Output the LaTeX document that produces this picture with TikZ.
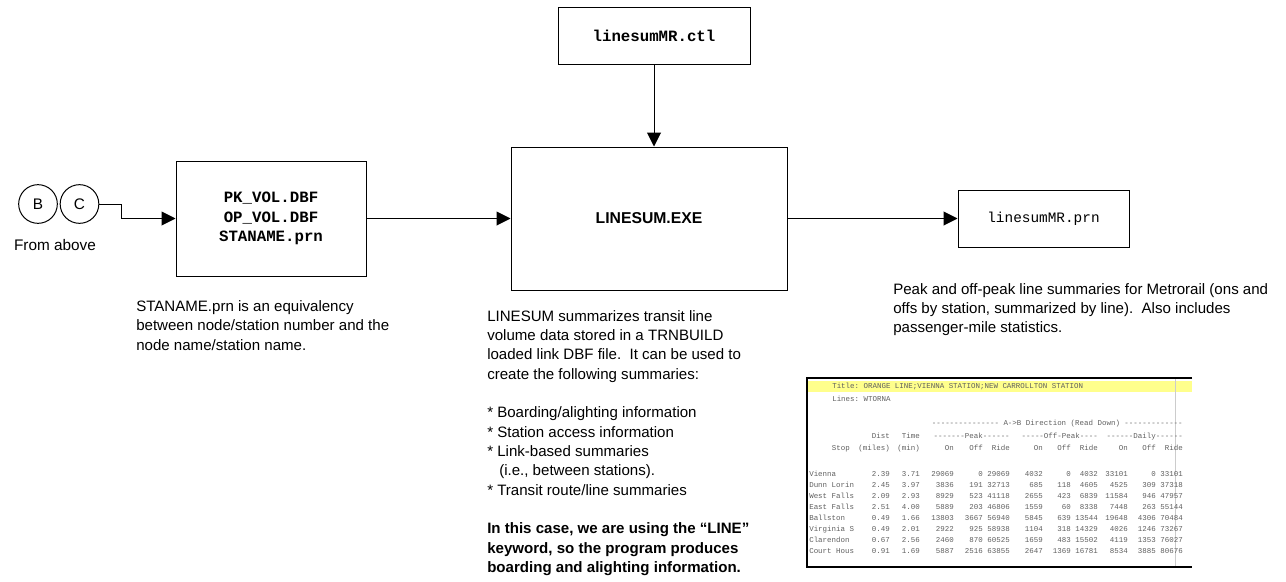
\documentclass[tikz,border=0pt]{standalone}
\usepackage{fontspec}
\setmainfont{Liberation Sans}
\setmonofont{Liberation Mono}
\usepackage{tikz}
\usetikzlibrary{arrows.meta, positioning}
\definecolor{TitleYellow}{RGB}{255, 255, 140}
\definecolor{ScreenGray}{RGB}{95, 95, 95}

\begin{document}
\begin{tikzpicture}[
    x=0.75pt, y=-0.75pt,
    box/.style={rectangle, draw=black, fill=white, line width=0.75pt, inner sep=0pt},
    filebox/.style={box, font=\ttfamily\bfseries\fontsize{11.8}{14.6}\selectfont, align=center},
    note/.style={anchor=north west, inner sep=0pt, align=left, font=\fontsize{11.3}{14.3}\selectfont},
    arrow/.style={-{Triangle[length=10.5pt, width=10.5pt]}, line width=0.75pt},
    station/.style={circle, draw, line width=0.75pt, minimum size=29pt, inner sep=0pt, font=\fontsize{11.5}{13}\selectfont},
    scr/.style={inner sep=0pt, text=ScreenGray, font=\ttfamily\fontsize{5.6}{6}\selectfont}
]
\useasboundingbox (0,0) rectangle (1286,582);

% Inputs
\node[station] (b) at (38,204) {B};
\node[station] (c) at (79.5,204) {C};
\node[font=\fontsize{11.5}{13}\selectfont] (above) at (55,245) {From above};
\node[filebox, minimum width=142.5pt, minimum height=86.25pt] (vol) at (271,218.5) {PK\_VOL.DBF\\OP\_VOL.DBF\\STANAME.prn};

% Program
\node[filebox, minimum width=144pt, minimum height=42.75pt] (ctl) at (654,35.5) {linesumMR.ctl};
\node[box, minimum width=207pt, minimum height=107.25pt, font=\bfseries\fontsize{11.8}{14}\selectfont] (linesum) at (649,218.5) {LINESUM.EXE};

% Output
\node[filebox, font=\ttfamily\fontsize{10.8}{13}\selectfont, minimum width=128.25pt, minimum height=42.75pt] (prn) at (1043.5,218.5) {linesumMR.prn};

% Arrows
\draw[arrow] (c.east) -- ++(22,0) |- (vol.west);
\draw[arrow] (vol.east) -- (vol.east -| linesum.west);
\draw[arrow] (ctl.south) -- (ctl.south |- linesum.north);
\draw[arrow] (linesum.east) -- (prn.west);

% Notes
\node[note, font=\fontsize{11.3}{14.6}\selectfont] (stanote) at (136,300) {STANAME.prn is an equivalency\\between node/station number and the\\node name/station name.};
\node[note, font=\fontsize{11.3}{14.5}\selectfont] (sumnote) at (487,310) {LINESUM summarizes transit line\\volume data stored in a TRNBUILD\\loaded link DBF file.\ \ It can be used to\\create the following summaries:\\ ~\\* Boarding/alighting information\\* Station access information\\* Link-based summaries\\\hspace*{9pt}(i.e., between stations).\\* Transit route/line summaries\\ ~\\\textbf{In this case, we are using the “LINE”}\\\textbf{keyword, so the program produces}\\\textbf{boarding and alighting information.}};
\node[note] (prnnote) at (893,283) {Peak and off-peak line summaries for Metrorail (ons and\\offs by station, summarized by line).\ \ Also includes\\passenger-mile statistics.};

% Sample of linesumMR.prn
\fill[TitleYellow] (808,381) rectangle (1192,392);
\draw[black!20, line width=0.6pt] (1175,378) -- (1175,567);
\draw[line width=0.9pt] (1192,378) -- (807,378) -- (807,567) -- (1192,567);
\node[scr, anchor=base west] (title) at (832,388) {Title: ORANGE LINE;VIENNA STATION;NEW CARROLLTON STATION};
\node[scr, anchor=base west] (lines) at (832,401) {Lines: WTORNA};
\node[scr, anchor=base east] (dir) at (1183,425) {--------------- A->B Direction (Read Down) -------------};
\node[scr, anchor=base east] (hdist) at (890,438) {Dist};
\node[scr, anchor=base east] (htime) at (920,438) {Time};
\node[scr, anchor=base east] (hpk) at (1010,438) {-------Peak------};
\node[scr, anchor=base east] (hop) at (1098,438) {-----Off-Peak----};
\node[scr, anchor=base east] (hdy) at (1183,438) {------Daily------};
\node[scr, anchor=base east] (hstop) at (850,450) {Stop};
\node[scr, anchor=base east] (hmiles) at (890,450) {(miles)};
\node[scr, anchor=base east] (hmin) at (920,450) {(min)};
\foreach \xx/\hh [count=\k] in {954/On, 983/Off, 1010/Ride, 1043/On, 1071/Off, 1098/Ride, 1128/On, 1156/Off, 1183/Ride}
  \node[scr, anchor=base east] (hcol\k) at (\xx,450) {\hh};
\foreach \yy/\stp/\ds/\tm/\pa/\pb/\pc/\oa/\ob/\oc/\da/\db/\dc [count=\i] in {
    476/Vienna/2.39/3.71/29069/0/29069/4032/0/4032/33101/0/33101,
    487/Dunn Lorin/2.45/3.97/3836/191/32713/685/118/4605/4525/309/37318,
    498/West Falls/2.09/2.93/8929/523/41118/2655/423/6839/11584/946/47957,
    509/East Falls/2.51/4.00/5889/203/46806/1559/60/8338/7448/263/55144,
    520/Ballston/0.49/1.66/13803/3667/56940/5845/639/13544/19648/4306/70484,
    531/Virginia S/0.49/2.01/2922/925/58938/1104/318/14329/4026/1246/73267,
    542/Clarendon/0.67/2.56/2460/870/60525/1659/483/15502/4119/1353/76027,
    553/Court Hous/0.91/1.69/5887/2516/63855/2647/1369/16781/8534/3885/80676} {
  \node[scr, anchor=base west] (stop\i) at (809,\yy) {\stp};
  \node[scr, anchor=base east] (dist\i) at (890,\yy) {\ds};
  \node[scr, anchor=base east] (time\i) at (920,\yy) {\tm};
  \node[scr, anchor=base east] (pkon\i) at (954,\yy) {\pa};
  \node[scr, anchor=base east] (pkoff\i) at (983,\yy) {\pb};
  \node[scr, anchor=base east] (pkride\i) at (1010,\yy) {\pc};
  \node[scr, anchor=base east] (opon\i) at (1043,\yy) {\oa};
  \node[scr, anchor=base east] (opoff\i) at (1071,\yy) {\ob};
  \node[scr, anchor=base east] (opride\i) at (1098,\yy) {\oc};
  \node[scr, anchor=base east] (dyon\i) at (1128,\yy) {\da};
  \node[scr, anchor=base east] (dyoff\i) at (1156,\yy) {\db};
  \node[scr, anchor=base east] (dyride\i) at (1183,\yy) {\dc};
}

\end{tikzpicture}
\end{document}
